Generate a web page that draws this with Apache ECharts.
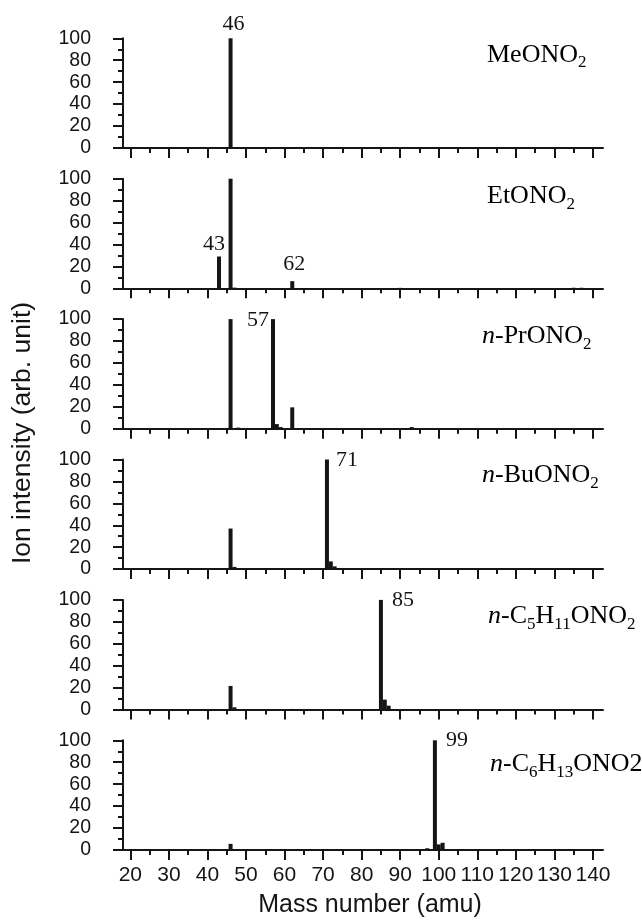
<!DOCTYPE html>
<html><head><meta charset="utf-8">
<script src="https://cdn.jsdelivr.net/npm/echarts@6/dist/echarts.min.js"></script>
<style>html,body{margin:0;padding:0;background:#fff}#c{width:642px;height:922px}</style>
</head><body><div id="c"></div>
<script>
// ---- data ----
const xMajorTicks = [20, 30, 40, 50, 60, 70, 80, 90, 100, 110, 120, 130, 140];
const xMinorTicks = [25, 35, 45, 55, 65, 75, 85, 95, 105, 115, 125, 135];
const yTickLabels = [0, 20, 40, 60, 80, 100];
const panelNames = [
  '{r|MeONO}{s|2}',
  '{r|EtONO}{s|2}',
  '{i|n}{r|-PrONO}{s|2}',
  '{i|n}{r|-BuONO}{s|2}',
  '{i|n}{r|-C}{s|5}{r|H}{s|11}{r|ONO}{s|2}',
  '{i|n}{r|-C}{s|6}{r|H}{s|13}{r|ONO2}'
];
const meono2 = [[46, 100], [47, 0.6], [62, 0.8]];
const etono2 = [[43, 29], [46, 100], [47, 0.6], [62, 6.5], [90, 0.4], [135, 0.5], [137, 0.5]];
const prono2 = [[46, 100], [48, 1], [57, 100], [58, 4.2], [59, 1.5], [62, 19.5], [68, 0.3], [93, 1.5], [102, 0.3]];
const buono2 = [[46, 37], [47, 2], [48, 0.8], [62, 0.5], [71, 100], [72, 7], [73, 2.5], [74, 0.8], [88, 0.4], [90, 0.4]];
const c5ono2 = [[46, 21.5], [47, 2], [62, 0.5], [85, 100], [86, 9], [87, 3.5], [88, 0.5]];
const c6ono2 = [[46, 5.5], [47, 0.8], [87, 0.4], [97, 1.5], [99, 100], [100, 5], [101, 6.5], [120, 0.3], [128, 0.3]];
const peakLabels = [[0, 46], [1, 43], [1, 62], [2, 57], [3, 71], [4, 85], [5, 99]];

// ---- styles / layout ----
const spectra = [meono2, etono2, prono2, buono2, c5ono2, c6ono2];
const ink = '#151515';
const sans = '"Liberation Sans", Arial, sans-serif';
const serif = '"Liberation Serif", "Times New Roman", serif';
const xMin = 18.1, xMax = 142.6;
const gridLeft = 123, gridWidth = 480, gridTop0 = 38.3, gridStep = 140.4, gridHeight = 109.6;
const labelOffsets = {
  '0-46': [3, 1.5], '1-43': [-5, 3.5], '1-62': [2, -1], '2-57': [-15, 17.5],
  '3-71': [20, 17], '4-85': [22, 16.7], '5-99': [22, 16]
};
const nameBaselines = [63.5, 205, 345, 484, 625, 773.3];
const nameLefts = [487, 487, 482, 482, 488, 490];

const line = { color: ink, width: 2 };
const grids = [], xAxes = [], yAxes = [], series = [], graphics = [];
spectra.forEach((data, i) => {
  const last = i === spectra.length - 1;
  grids.push({ left: gridLeft, width: gridWidth, top: gridTop0 + i * gridStep, height: gridHeight });
  xAxes.push({
    type: 'value', gridIndex: i, min: xMin, max: xMax, position: 'bottom',
    axisLine: { show: true, onZero: false, lineStyle: line },
    axisTick: { show: true, customValues: xMajorTicks, length: 10, lineStyle: line },
    axisLabel: { show: last, customValues: xMajorTicks, margin: 15, fontSize: 21, color: ink, fontFamily: sans },
    splitLine: { show: false }
  });
  xAxes.push({
    type: 'value', gridIndex: i, min: xMin, max: xMax, position: 'bottom',
    axisLine: { show: false },
    axisTick: { show: true, customValues: xMinorTicks, length: 5, lineStyle: line },
    axisLabel: { show: false },
    splitLine: { show: false }
  });
  yAxes.push({
    type: 'value', gridIndex: i, min: 0, max: 100, interval: 20,
    axisLine: { show: true, onZero: false, lineStyle: line },
    axisTick: { show: true, length: 10, lineStyle: line },
    minorTick: { show: true, splitNumber: 2, length: 5, lineStyle: line },
    axisLabel: { margin: 32, fontSize: 19.5, color: ink, fontFamily: sans,
      formatter: v => yTickLabels.includes(v) ? String(v) : '' },
    splitLine: { show: false }, minorSplitLine: { show: false }
  });
  const items = data.map(([m, v]) => {
    const key = i + '-' + m;
    const labelled = peakLabels.some(([p, mm]) => p === i && mm === m);
    const it = { value: [m, v] };
    if (labelled) {
      it.label = { show: true, position: 'top', formatter: String(m), offset: labelOffsets[key] || [0, 0],
        fontFamily: serif, fontSize: 22, color: ink };
    }
    return it;
  });
  series.push({ type: 'bar', xAxisIndex: 2 * i, yAxisIndex: i, data: items, barWidth: 4,
    itemStyle: { color: ink }, label: { show: false }, silent: true });
  graphics.push({
    type: 'text', x: nameLefts[i], y: nameBaselines[i] - 8.8,
    style: {
      text: panelNames[i], align: 'left', verticalAlign: 'middle',
      rich: {
        r: { fontFamily: serif, fontSize: 26, color: ink },
        i: { fontFamily: serif, fontSize: 26, fontStyle: 'italic', color: ink },
        s: { fontFamily: serif, fontSize: 17, color: ink, lineHeight: 33, verticalAlign: 'bottom' }
      }
    }
  });
});
graphics.push({
  type: 'text', x: 23, y: 433, rotation: Math.PI / 2,
  style: { text: 'Ion intensity (arb. unit)', align: 'center', verticalAlign: 'middle',
    font: '26.5px ' + sans, fill: ink }
});
graphics.push({
  type: 'text', x: 370, y: 905,
  style: { text: 'Mass number (amu)', align: 'center', verticalAlign: 'middle',
    font: '25px ' + sans, fill: ink }
});

const chart = echarts.init(document.getElementById('c'), null, { renderer: 'canvas' });
chart.setOption({
  animation: false,
  backgroundColor: '#fff',
  grid: grids, xAxis: xAxes, yAxis: yAxes, series: series, graphic: graphics
});
</script></body></html>
